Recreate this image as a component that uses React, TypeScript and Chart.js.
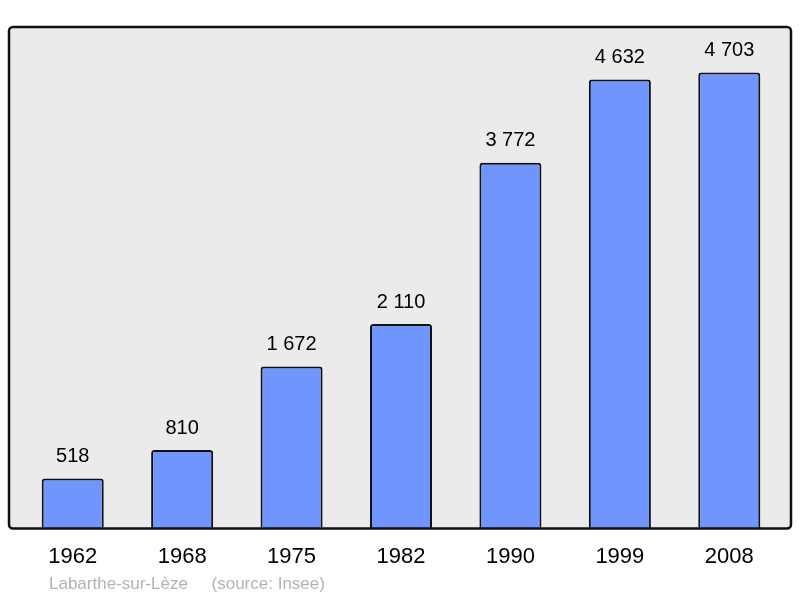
import React, { useEffect, useRef } from "react";
import { Chart, registerables } from "chart.js";

Chart.register(...registerables);

const years = ["1962", "1968", "1975", "1982", "1990", "1999", "2008"];
const population = [518, 810, 1672, 2110, 3772, 4632, 4703];
const footerText = "Labarthe-sur-Lèze     (source: Insee)";

const FONT = "'Liberation Sans', Arial, sans-serif";

function fmt(n: number): string {
  return String(n).replace(/\B(?=(\d{3})+(?!\d))/g, " ");
}

const framePlugin = {
  id: "frame",
  beforeDraw(chart: any) {
    const { ctx, chartArea } = chart;
    const x0 = chartArea.left - 9;
    const x1 = chartArea.right + 7;
    const y0 = chartArea.top;
    const y1 = chartArea.bottom;
    ctx.save();
    ctx.beginPath();
    if (ctx.roundRect) ctx.roundRect(x0, y0, x1 - x0, y1 - y0, 4);
    else ctx.rect(x0, y0, x1 - x0, y1 - y0);
    ctx.fillStyle = "#ebebeb";
    ctx.fill();
    ctx.restore();
  },
  afterDatasetsDraw(chart: any) {
    const { ctx, chartArea } = chart;
    const x0 = chartArea.left - 9;
    const x1 = chartArea.right + 7;
    const y0 = chartArea.top;
    const y1 = chartArea.bottom;
    ctx.save();
    ctx.beginPath();
    if (ctx.roundRect) ctx.roundRect(x0, y0, x1 - x0, y1 - y0, 4);
    else ctx.rect(x0, y0, x1 - x0, y1 - y0);
    ctx.lineWidth = 2.5;
    ctx.strokeStyle = "#111";
    ctx.stroke();

    // value labels
    ctx.fillStyle = "#000";
    ctx.font = `20px ${FONT}`;
    ctx.textAlign = "center";
    ctx.textBaseline = "middle";
    const meta = chart.getDatasetMeta(0);
    meta.data.forEach((bar: any, i: number) => {
      ctx.fillText(fmt(population[i]), bar.x, bar.y - 22);
    });

    // footer
    ctx.fillStyle = "#b3b3b3";
    ctx.font = `17px ${FONT}`;
    ctx.textAlign = "left";
    ctx.fillText(footerText, 49, 584);
    ctx.restore();
  },
};

export default function App() {
  const ref = useRef<HTMLCanvasElement>(null);
  useEffect(() => {
    document.body.style.margin = "0";
    const chart = new Chart(ref.current!, {
      type: "bar",
      data: {
        labels: years,
        datasets: [
          {
            data: population,
            backgroundColor: "#7095ff",
            borderColor: "#111",
            borderWidth: 2,
            borderRadius: 3,
            categoryPercentage: 1,
            barPercentage: 0.567,
          },
        ],
      },
      options: {
        animation: false,
        responsive: false,
        layout: { padding: { top: 27, left: 18, right: 16, bottom: 13 } },
        plugins: { legend: { display: false }, tooltip: { enabled: false } },
        scales: {
          x: {
            grid: { display: false, drawTicks: false },
            border: { display: false },
            ticks: { color: "#000", font: { family: FONT, size: 22 }, padding: 15 },
          },
          y: {
            display: false,
            min: 0,
            max: 4703 * 1.1,
          },
        },
      },
      plugins: [framePlugin],
    });
    return () => chart.destroy();
  }, []);
  return <canvas ref={ref} width={800} height={598} />;
}
